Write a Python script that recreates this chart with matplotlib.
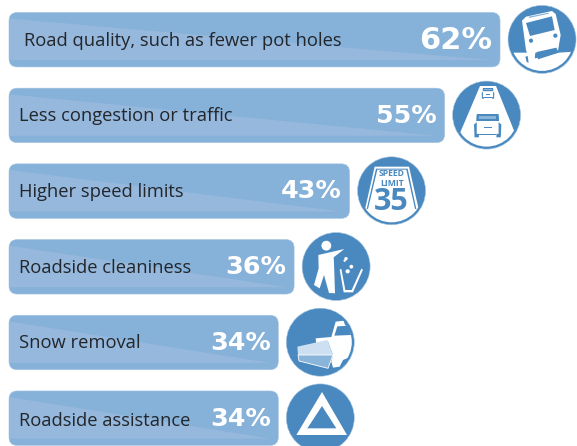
# Road improvement priorities, bars with round icons
import matplotlib
matplotlib.use('Agg')
import matplotlib.pyplot as plt
from matplotlib.patches import FancyBboxPatch, Polygon, Circle

categories = ['Road quality, such as fewer pot holes', 'Less congestion or traffic',
              'Higher speed limits', 'Roadside cleaniness', 'Snow removal', 'Roadside assistance']
values = [62, 55, 43, 36, 34, 34]
value_labels = ['62%', '55%', '43%', '36%', '34%', '34%']

BAR = '#86b1d9'
WEDGE = '#95b8dc'
BLUE = '#4a89bf'
PALE = '#cde0f1'
MID = '#8ab5db'
TEXT = '#23262b'

W, H = 577, 446
PX_PER_PCT = 7.92
PX_PER_ROW = 75.7
LEFT = 9
TOP = 39.7
BAR_H = 54.5 / PX_PER_ROW

fig = plt.figure(figsize=(W / 100, H / 100), dpi=100)

# bars live on a percent / row scale
ax = fig.add_axes([0, 0, 1, 1])
ax.set_xlim(-LEFT / PX_PER_PCT, (W - LEFT) / PX_PER_PCT)
ax.set_ylim((H - TOP) / PX_PER_ROW, -TOP / PX_PER_ROW)
ax.axis('off')

# icons are glyphs, drawn in pixels
px = fig.add_axes([0, 0, 1, 1])
px.set_xlim(0, W)
px.set_ylim(H, 0)
px.axis('off')
px.patch.set_alpha(0)


def crop(origin, pts):
    return [(origin[0] + x / 3, origin[1] + y / 3) for x, y in pts]


def shape(origin, pts, color='white', clip=None, z=4, **kw):
    p = Polygon(crop(origin, pts), closed=True, fc=color, ec=kw.pop('ec', 'none'), zorder=z, **kw)
    px.add_patch(p)
    if clip is not None:
        p.set_clip_path(clip)
    return p


def badge(cx, cy, r_clip=31.5):
    px.add_patch(Circle((cx, cy), 34, fc=BLUE, ec='#a9c8e3', lw=0.4, zorder=3))
    c = Circle((cx, cy), r_clip, transform=px.transData)
    return c


def dot(origin, x, y, r, color=BLUE, z=6):
    ox, oy = crop(origin, [(x, y)])[0]
    px.add_patch(Circle((ox, oy), r, fc=color, ec='none', zorder=z))


def bus(cx, cy):
    o = (502, 0)
    clip = badge(cx, cy)
    shape(o, [(20, 158), (75, 158), (100, 175), (170, 158), (215, 155), (215, 240), (20, 240)], clip=clip)
    shape(o, [(60, 62), (72, 50), (150, 33), (161, 42), (176, 105), (168, 152), (100, 158), (97, 185),
              (78, 168), (72, 150)], z=5)
    shape(o, [(70, 170), (77, 168), (80, 188), (74, 186)], color=BLUE, z=6)
    shape(o, [(72, 69), (150, 49), (158, 90), (84, 108)], color=BLUE, z=6)
    shape(o, [(80, 50), (140, 38), (141, 41), (81, 54)], color=MID, z=6)
    shape(o, [(104, 156), (163, 143), (170, 158), (108, 178)], color=BLUE, z=6)
    dot(o, 87, 122, 2.1)
    dot(o, 160, 107, 2.1)


def car(o, x0, y0, w, h):
    # x0, y0, w, h in crop units, blue grille and sides around a white body
    pts = lambda fx, fy: (x0 + fx * w, y0 + fy * h)
    shape(o, [pts(.1, 0), pts(.9, 0), pts(.92, .3), pts(.08, .3)], color=BLUE, z=5)
    shape(o, [pts(.2, .08), pts(.8, .08), pts(.8, .2), pts(.2, .2)], color=MID, z=6)
    shape(o, [pts(0, .45), pts(.1, .35), pts(.1, .85), pts(.18, .85), pts(.18, 1), pts(.02, 1)], color=BLUE, z=5)
    shape(o, [pts(1, .45), pts(.9, .35), pts(.9, .85), pts(.82, .85), pts(.82, 1), pts(.98, 1)], color=BLUE, z=5)
    shape(o, [pts(.35, .55), pts(.65, .55), pts(.65, .62), pts(.35, .62)], color=BLUE, z=6)
    shape(o, [pts(.18, .86), pts(.82, .86), pts(.82, .92), pts(.18, .92)], color=BLUE, z=6)


def cars(cx, cy):
    o = (450, 78)
    clip = badge(cx, cy)
    shape(o, [(90, 24), (138, 24), (195, 165), (205, 240), (20, 240), (30, 165)], clip=clip)
    car(o, 95, 30, 38, 32)
    car(o, 72, 108, 82, 70)


def sign(cx, cy):
    o = (354, 154)
    clip = badge(cx, cy)
    shape(o, [(62, 38), (165, 38), (195, 170), (200, 240), (25, 240), (32, 170)], clip=clip)
    shape(o, [(66, 44), (161, 44), (187, 165), (183, 165), (157, 47), (70, 47), (42, 165), (38, 165)],
          color=BLUE, z=5)
    for txt, y, size in [('SPEED', 57, 6.2), ('LIMIT', 87, 6.2), ('35', 143, 22)]:
        tx, ty = crop(o, [(113, y)])[0]
        px.text(tx, ty, txt, color=BLUE, fontsize=size, fontweight='bold', ha='center', va='center',
                family='Open Sans', zorder=6)


def litter(cx, cy):
    o = (299, 230)
    badge(cx, cy)
    dot(o, 82, 47, 4.9, color='white')
    shape(o, [(58, 75), (136, 57), (104, 82), (105, 100), (108, 190), (90, 189), (75, 135), (62, 175),
              (45, 165), (59, 115)])
    shape(o, [(122, 118), (127, 117), (139, 180), (158, 180), (187, 116), (192, 119), (162, 187), (134, 187)])
    for x, y, r in [(141, 86, 1.7), (157, 110, 1.9), (146, 124, 2.1), (137, 92, 1.2)]:
        dot(o, x, y, r, color='white')


def plow(cx, cy):
    o = (283, 305)
    clip = badge(cx, cy)
    shape(o, [(98, 100), (145, 96), (158, 50), (182, 47), (186, 60), (204, 70), (215, 150), (180, 165),
              (170, 185), (150, 188), (145, 170), (150, 150), (135, 110), (100, 118)], clip=clip)
    shape(o, [(163, 64), (200, 62), (204, 90), (154, 92)], color=BLUE, z=5)
    shape(o, [(43, 125), (133, 105), (150, 150), (45, 150)], color=PALE, z=6)
    shape(o, [(45, 150), (150, 150), (135, 190), (48, 168)], color=MID, ec='white', lw=0.6, z=6)


def triangle(cx, cy):
    o = (283, 380)
    badge(cx, cy)
    shape(o, [(117, 36), (192, 165), (40, 165)])
    shape(o, [(117, 78), (160, 145), (73, 145)], color=BLUE, z=5)


icons = [bus, cars, sign, litter, plow, triangle]

for i, (name, v, lab) in enumerate(zip(categories, values, value_labels)):
    bar = FancyBboxPatch((0, i - BAR_H / 2), v, BAR_H, boxstyle='round,pad=0,rounding_size=1.05',
                         mutation_aspect=PX_PER_PCT / PX_PER_ROW, fc=BAR, ec='#a3c4e2', lw=0.4, zorder=1)
    ax.add_patch(bar)
    # lighter wedge across the bar, it stops short of the bottom edge
    wedge = Polygon([(0, i - 0.28), (v - 1.0, i + 0.27), (0, i + 0.27)], closed=True, fc=WEDGE, ec='none', zorder=2)
    ax.add_patch(wedge)
    wedge.set_clip_path(bar)

    label_x = 1.9 if i == 0 else 1.2
    ax.text(label_x, i + (0.035 if i == 5 else 0.012), name, color=TEXT, fontsize=13.2, family='Open Sans',
            va='center', ha='left', zorder=5)
    ax.text(v - 0.95, i + 0.005, lab, color='white', fontsize=22 if i == 0 else 18.3, fontweight='bold',
            family='DejaVu Sans', va='center', ha='right', zorder=5)

    cx = ax.transData.transform((v, i))
    cx = px.transData.inverted().transform(cx)
    icons[i](cx[0] + 42, cx[1] - 0.3)

fig.savefig('out.png', dpi=100)
